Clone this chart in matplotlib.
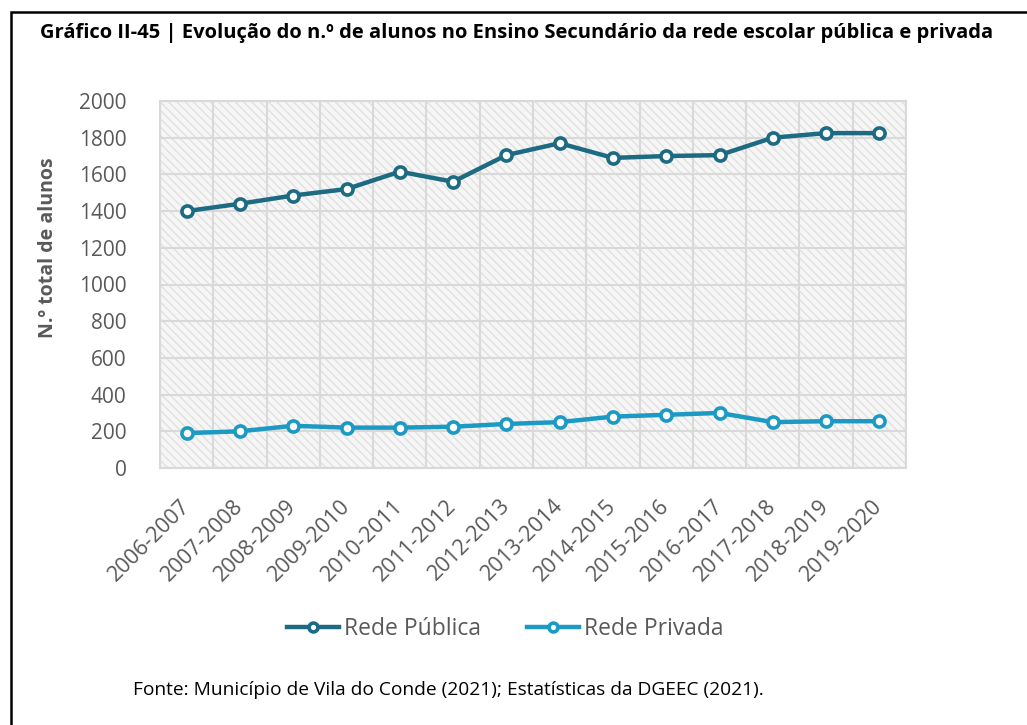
import matplotlib.pyplot as plt
import numpy as np
from matplotlib.patches import Rectangle

plt.rcParams['font.family'] = ['Open Sans', 'DejaVu Sans']
plt.rcParams['hatch.color'] = '#dedede'
plt.rcParams['hatch.linewidth'] = 1.0

anos = ['2006-2007', '2007-2008', '2008-2009', '2009-2010', '2010-2011',
        '2011-2012', '2012-2013', '2013-2014', '2014-2015', '2015-2016',
        '2016-2017', '2017-2018', '2018-2019', '2019-2020']
rede_publica = [1400, 1440, 1485, 1520, 1615, 1560, 1705, 1770,
                1690, 1700, 1705, 1800, 1825, 1825]
rede_privada = [190, 200, 230, 220, 220, 225, 240, 250,
                280, 290, 300, 250, 255, 255]
y_ticks = [0, 200, 400, 600, 800, 1000, 1200, 1400, 1600, 1800, 2000]

cor_publica = '#1d6b82'
cor_privada = '#1c9ac4'
cinza = '#595959'

fig = plt.figure(figsize=(10.27, 7.25), dpi=100)

# moldura (so topo e esquerda visiveis)
fig.patches.append(Rectangle((11 / 1027, -0.1), 1.2, 1.1 - 12 / 725,
                             transform=fig.transFigure, fill=False,
                             edgecolor='black', linewidth=1.8))

fig.text(40 / 1027, 1 - 33 / 725,
         'Gráfico II-45 | Evolução do n.º de alunos no Ensino Secundário da rede escolar pública e privada',
         fontsize=14.5, fontweight='bold', color='black', va='center', ha='left')

ax = fig.add_axes([160 / 1027, 1 - 468 / 725, 746 / 1027, 367 / 725])
ax.set_facecolor('#f6f6f6')
ax.add_patch(Rectangle((0, 0), 1, 1, transform=ax.transAxes, facecolor='none',
                       hatch='\\\\\\\\', edgecolor='#e0e0e0', linewidth=0, zorder=0))

x = np.arange(len(anos))
ax.plot(x, rede_publica, color=cor_publica, linewidth=3.2, marker='o',
        markersize=8, markerfacecolor='white', markeredgewidth=2.6,
        markeredgecolor=cor_publica, label='Rede Pública', zorder=3)
ax.plot(x, rede_privada, color=cor_privada, linewidth=3.2, marker='o',
        markersize=8, markerfacecolor='white', markeredgewidth=2.6,
        markeredgecolor=cor_privada, label='Rede Privada', zorder=3)

ax.set_xlim(-0.5, len(anos) - 0.5)
ax.set_ylim(0, 2000)
ax.set_yticks(y_ticks)
ax.set_xticks(x)
ax.set_xticklabels(anos, rotation=45, ha='right', va='center', rotation_mode='anchor')
ax.set_xticks(np.arange(len(anos) + 1) - 0.5, minor=True)
ax.tick_params(axis='both', which='both', length=0, colors=cinza, labelsize=15)
ax.tick_params(axis='x', labelsize=15.6, pad=25)
ax.tick_params(axis='y', pad=24)

ax.grid(True, axis='y', which='major', color='#d9d9d9', linewidth=1.5, zorder=1)
ax.grid(True, axis='x', which='minor', color='#d9d9d9', linewidth=1.5, zorder=1)
ax.grid(False, axis='x', which='major')
ax.set_axisbelow(True)
for s in ax.spines.values():
    s.set_color('#d9d9d9')
    s.set_linewidth(1.5)

fig.text(48 / 1027, 1 - 248 / 725, 'N.º total de alunos', rotation=90,
         fontsize=14, fontweight='bold', color=cinza, va='center', ha='center')

leg = fig.legend(loc='center', bbox_to_anchor=(505 / 1027, 1 - 629 / 725), ncol=2,
                 frameon=False, fontsize=16.5, handlelength=2.3, columnspacing=2.0,
                 handletextpad=0.2, markerscale=0.8)
for t in leg.get_texts():
    t.set_color(cinza)

fig.text(133 / 1027, 1 - 690 / 725,
         'Fonte: Município de Vila do Conde (2021); Estatísticas da DGEEC (2021).',
         fontsize=13.8, color='black', va='center', ha='left')

fig.savefig('out.png', dpi=100)
